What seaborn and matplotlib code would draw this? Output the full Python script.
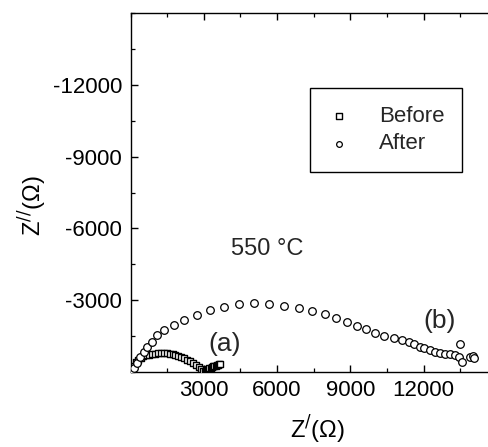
import matplotlib
matplotlib.use("Agg")
import matplotlib.pyplot as plt
import seaborn as sns
import pandas as pd
from matplotlib.ticker import MultipleLocator, FixedLocator

# ---- data ----
before_x = [80, 150, 230, 320, 420, 530, 640, 760, 880, 1000, 1120, 1240, 1360, 1480,
            1600, 1720, 1840, 1960, 2080, 2200, 2320, 2440, 2560, 2680, 2790, 2890,
            2970, 3030, 3080, 3130, 3180, 3230, 3280, 3330, 3380, 3430, 3480, 3530,
            3580, 3630, 3680]
before_y = [-80, -250, -400, -520, -600, -660, -700, -730, -750, -765, -775, -780, -780, -775,
            -765, -745, -720, -685, -640, -585, -520, -445, -365, -280, -190, -110,
            -50, -45, -70, -100, -130, -160, -185, -210, -230, -250, -270, -290,
            -310, -330, -350]

after_x = [60, 135, 274, 409, 544, 683, 888, 1092, 1362, 1771, 2180, 2728, 3272, 3816,
           4429, 5043, 5656, 6298, 6883, 7432, 7947, 8425, 8863, 9272, 9652, 10020,
           10360, 10769, 11113, 11383, 11616, 11833, 12025, 12242, 12475, 12679,
           12884, 13088, 13293, 13427, 13497, 13566, 13877, 14016, 14070]
after_y = [-80, -155, -376, -639, -848, -1057, -1266, -1546, -1755, -1964, -2173, -2382,
           -2590, -2728, -2841, -2870, -2841, -2757, -2661, -2549, -2411, -2244, -2076,
           -1909, -1784, -1617, -1504, -1408, -1337, -1241, -1157, -1057, -990, -919,
           -848, -781, -752, -740, -710, -639, -1157, -430, -639, -668, -572]

series_labels = ["Before", "After"]
x_ticks = [3000, 6000, 9000, 12000]
y_ticks = [-3000, -6000, -9000, -12000]

df_before = pd.DataFrame({"Zr": before_x, "Zi": before_y})
df_after = pd.DataFrame({"Zr": after_x, "Zi": after_y})

sns.set_style("ticks")
plt.rcParams["font.family"] = ["Liberation Sans", "DejaVu Sans"]
plt.rcParams["axes.unicode_minus"] = False

fig = plt.figure(figsize=(4.89, 4.47), dpi=100)
ax = fig.add_axes([130.5 / 489, 75 / 447, 366.5 / 489, 359 / 447])

sns.scatterplot(data=df_before, x="Zr", y="Zi", ax=ax, marker="s", s=24,
                facecolor="white", edgecolor="black", linewidth=1.0,
                label=series_labels[0], zorder=3)
sns.scatterplot(data=df_after, x="Zr", y="Zi", ax=ax, marker="o", s=30,
                facecolor="white", edgecolor="black", linewidth=0.9,
                label=series_labels[1], zorder=3)

ax.set_xlim(0, 15000)
ax.set_ylim(0, -15000)

ax.xaxis.set_major_locator(FixedLocator(x_ticks))
ax.yaxis.set_major_locator(FixedLocator(y_ticks))
ax.xaxis.set_minor_locator(MultipleLocator(1500))
ax.yaxis.set_minor_locator(MultipleLocator(1500))
ax.tick_params(which="both", direction="in", top=True, right=False, color="black")
ax.tick_params(which="major", length=5, width=1.0, labelsize=16, pad=6,
               labelcolor="black")
ax.tick_params(which="minor", length=3, width=0.9)

for sp in ["left", "bottom", "top", "right"]:
    ax.spines[sp].set_color("black")
    ax.spines[sp].set_linewidth(1.0)

ax.set_xlabel("Z$^{/}$(Ω)", fontsize=17, color="black")
ax.set_ylabel("Z$^{//}$(Ω)", fontsize=17, color="black")
ax.xaxis.set_label_coords((317 - 130.5) / 366.5, -(414 - 372) / 359)
ax.yaxis.set_label_coords(-(130.5 - 49) / 366.5, (372 - 206) / 359)

ax.text(5600, -5150, "550 °C", fontsize=17, ha="center", va="center")
ax.text(3850, -1150, "(a)", fontsize=19, ha="center", va="center")
ax.text(12650, -2150, "(b)", fontsize=19, ha="center", va="center")

leg = ax.legend(loc="upper left", bbox_to_anchor=(310 / 489, 1 - 88 / 447),
                bbox_transform=fig.transFigure, fontsize=16, frameon=True,
                fancybox=False, edgecolor="black", framealpha=1,
                handlelength=1.0, handletextpad=1.3, borderpad=0.8,
                labelspacing=0.3, markerscale=0.75, borderaxespad=0)
leg.get_frame().set_linewidth(1.0)

fig.savefig("out.png", dpi=100)
